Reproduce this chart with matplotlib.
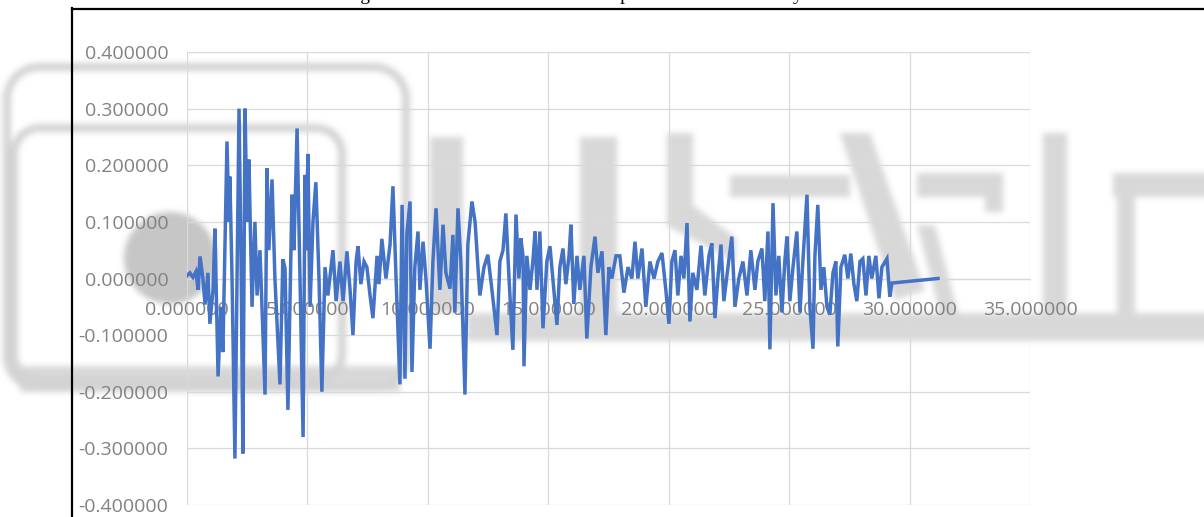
import numpy as np
import matplotlib
matplotlib.use("Agg")
import matplotlib.pyplot as plt
from matplotlib.lines import Line2D
from matplotlib.path import Path

# ---- ground acceleration record (time in s, acceleration in g) ----
time_s = [
    0.00, 0.12, 0.25, 0.37, 0.46, 0.54, 0.66, 0.75, 0.87, 0.95, 1.08, 1.16, 1.29, 1.41, 1.49,
    1.66, 1.74, 1.78, 1.87, 1.99, 2.16, 2.24, 2.32, 2.41, 2.49, 2.57, 2.70, 2.82, 2.91, 3.03,
    3.24, 3.32, 3.40, 3.53, 3.65, 3.86, 3.98, 4.07, 4.19, 4.36, 4.44, 4.57, 4.69, 4.82, 4.90,
    4.94, 5.02, 5.11, 5.23, 5.35, 5.48, 5.60, 5.73, 5.85, 6.06, 6.19, 6.35, 6.48, 6.64, 6.77,
    6.89, 7.02, 7.10, 7.22, 7.35, 7.47, 7.60, 7.72, 7.89, 7.97, 8.09, 8.26, 8.43, 8.55, 8.68,
    8.84, 8.93, 9.05, 9.13, 9.26, 9.34, 9.46, 9.59, 9.67, 9.80, 9.92, 10.09, 10.21, 10.34, 10.50,
    10.63, 10.75, 10.92, 11.04, 11.12, 11.25, 11.37, 11.54, 11.66, 11.83, 11.96, 12.08, 12.16, 12.33, 12.49,
    12.66, 12.87, 12.99, 13.12, 13.24, 13.37, 13.53, 13.66, 13.78, 13.86, 13.95, 13.99, 14.11, 14.24, 14.36,
    14.45, 14.53, 14.65, 14.78, 14.94, 15.07, 15.19, 15.36, 15.48, 15.61, 15.73, 15.86, 15.94, 16.06, 16.19,
    16.31, 16.48, 16.60, 16.77, 16.94, 17.06, 17.23, 17.39, 17.52, 17.64, 17.81, 17.97, 18.14, 18.31, 18.47,
    18.60, 18.72, 18.89, 19.05, 19.22, 19.39, 19.55, 19.72, 19.88, 20.01, 20.13, 20.26, 20.38, 20.51, 20.63,
    20.76, 20.88, 21.00, 21.17, 21.34, 21.50, 21.67, 21.79, 21.92, 22.04, 22.17, 22.29, 22.46, 22.62, 22.75,
    22.91, 23.08, 23.25, 23.41, 23.58, 23.70, 23.87, 23.99, 24.12, 24.20, 24.33, 24.45, 24.57, 24.70, 24.82,
    24.91, 25.03, 25.16, 25.32, 25.45, 25.57, 25.74, 25.86, 25.99, 26.07, 26.19, 26.32, 26.44, 26.57, 26.69,
    26.82, 26.94, 27.02, 27.15, 27.31, 27.44, 27.56, 27.69, 27.81, 27.94, 28.06, 28.19, 28.31, 28.43, 28.60,
    28.73, 28.85, 29.06, 29.18, 29.27, 31.18,
]
accel_g = [
    0.005, 0.010, 0.002, 0.012, -0.020, 0.039, 0.000, -0.046, 0.010, -0.080, -0.020, 0.088, -0.173, -0.050, -0.130,
    0.242, 0.100, 0.180, 0.000, -0.318, 0.300, 0.050, -0.309, 0.300, 0.100, 0.210, -0.050, 0.100, -0.030, 0.050,
    -0.205, 0.195, 0.050, 0.175, 0.000, -0.187, 0.034, 0.018, -0.232, 0.148, 0.050, 0.265, 0.000, -0.280, 0.183,
    0.050, 0.220, -0.050, 0.100, 0.170, 0.000, -0.200, 0.020, -0.030, 0.050, -0.040, 0.030, -0.040, 0.048, -0.020,
    -0.100, 0.030, 0.057, -0.010, 0.030, 0.020, -0.030, -0.070, 0.040, -0.010, 0.070, 0.000, 0.060, 0.163, 0.000,
    -0.187, 0.130, -0.177, 0.080, 0.136, -0.165, 0.020, 0.083, -0.020, 0.065, 0.000, -0.124, 0.030, 0.124, -0.020,
    0.095, 0.010, -0.018, 0.077, -0.060, 0.124, 0.030, -0.205, 0.060, 0.136, 0.100, 0.020, -0.030, 0.020, 0.042,
    -0.020, -0.100, 0.030, 0.050, 0.115, 0.000, -0.126, 0.113, 0.000, 0.071, 0.040, -0.155, 0.040, -0.020, 0.030,
    0.083, -0.020, 0.083, -0.088, 0.030, 0.057, 0.000, -0.082, 0.020, 0.053, -0.010, 0.040, 0.095, -0.045, 0.040,
    -0.020, 0.040, -0.106, 0.020, 0.074, 0.010, 0.048, -0.100, 0.020, 0.000, 0.040, 0.040, -0.025, 0.020, 0.000,
    0.065, 0.000, 0.053, -0.050, 0.030, 0.000, 0.030, 0.045, -0.020, -0.080, 0.030, 0.050, -0.030, 0.040, 0.000,
    0.098, -0.076, 0.010, -0.020, 0.058, -0.030, 0.040, 0.062, -0.070, 0.000, 0.060, -0.040, 0.020, 0.074, -0.050,
    0.000, 0.030, -0.030, 0.050, -0.020, 0.030, 0.053, -0.040, 0.083, -0.125, 0.133, -0.030, 0.040, -0.060, 0.030,
    0.074, -0.040, 0.020, 0.083, -0.060, 0.030, 0.148, -0.050, -0.124, 0.040, 0.130, -0.020, 0.020, -0.050, -0.064,
    0.010, 0.030, -0.120, 0.020, 0.042, 0.000, 0.044, -0.010, -0.040, 0.030, 0.035, -0.030, 0.040, 0.000, 0.040,
    -0.035, 0.020, 0.035, -0.032, -0.008, 0.000,
]

x_ticks = [0, 5, 10, 15, 20, 25, 30, 35]
y_ticks = [-0.4, -0.3, -0.2, -0.1, 0.0, 0.1, 0.2, 0.3, 0.4]
caption = "Fig. 4: Accelerations at the time step of the seismic history"

W, H = 1204, 517
fig = plt.figure(figsize=(W / 100, H / 100), dpi=100, facecolor="white")

# ---- faint journal logo behind the chart ----
yy, xx = np.mgrid[0:H, 0:W].astype(float) + 0.5


def rounded_fill(x0, y0, x1, y1, r):
    dx = np.maximum(np.maximum(x0 + r - xx, 0), xx - (x1 - r))
    dy = np.maximum(np.maximum(y0 + r - yy, 0), yy - (y1 - r))
    inside = (xx >= x0) & (xx <= x1) & (yy >= y0) & (yy <= y1)
    return inside & (dx ** 2 + dy ** 2 <= r ** 2)


def rounded_ring(x0, y0, x1, y1, r, w):
    return rounded_fill(x0, y0, x1, y1, r) & ~rounded_fill(x0 + w, y0 + w, x1 - w, y1 - w, max(r - w, 1))


def box(x0, y0, x1, y1):
    return (xx >= x0) & (xx <= x1) & (yy >= y0) & (yy <= y1)


def poly(pts):
    p = Path(pts)
    return p.contains_points(np.c_[xx.ravel(), yy.ravel()]).reshape(H, W)


shade = np.zeros((H, W))
for m, g in [
    (rounded_ring(3, 63, 410, 392, 36, 8), 0.17),
    (rounded_ring(10, 124, 346, 384, 30, 8), 0.17),
    (box(20, 366, 400, 392), 0.15),
    (box(430, 137, 463, 313), 0.15),
    (box(580, 137, 617, 313), 0.15),
    (box(467, 313, W, 341), 0.15),
    (poly([(667, 133), (693, 133), (693, 205), (736, 238), (736, 262), (667, 226)]), 0.15),
    (box(730, 175, 850, 197), 0.15),
    (poly([(840, 133), (870, 133), (925, 290), (895, 300)]), 0.15),
    (box(917, 173, 1003, 197), 0.15),
    (box(985, 173, 1003, 212), 0.15),
    (poly([(917, 225), (935, 225), (958, 313), (940, 313)]), 0.15),
    (box(1043, 133, 1067, 313), 0.15),
    (box(1113, 173, W, 197), 0.15),
    (box(1117, 197, 1135, 313), 0.15),
]:
    shade = np.maximum(shade, m * g)
circle = (xx - 170) ** 2 + (yy - 258) ** 2 <= 46 ** 2
shade = np.maximum(shade, circle * 0.22)


def box_blur(a, r):
    k = 2 * r + 1
    p = np.pad(a, ((r, r), (0, 0)), mode="edge")
    c = np.cumsum(np.vstack([np.zeros((1, a.shape[1])), p]), axis=0)
    a = (c[k:] - c[:-k]) / k
    p = np.pad(a, ((0, 0), (r, r)), mode="edge")
    c = np.cumsum(np.hstack([np.zeros((a.shape[0], 1)), p]), axis=1)
    return (c[:, k:] - c[:, :-k]) / k


shade = box_blur(box_blur(shade, 3), 3)
rgb = np.repeat((1.0 - shade)[:, :, None], 3, axis=2)
bg = fig.add_axes([0, 0, 1, 1], zorder=0)
bg.imshow(rgb, extent=(0, W, H, 0), aspect="auto", interpolation="bilinear")
bg.set_xlim(0, W)
bg.set_ylim(H, 0)
bg.axis("off")

# ---- chart ----
left, right, top, bottom = 187, 1030, 52, 505
ax = fig.add_axes([left / W, 1 - bottom / H, (right - left) / W, (bottom - top) / H], zorder=2)
ax.set_facecolor("none")
ax.plot(time_s, accel_g, color="#4472C4", lw=2.5, solid_joinstyle="miter", zorder=3)

ax.set_xlim(0, 35)
ax.set_ylim(-0.4, 0.4)
ax.set_xticks(x_ticks)
ax.set_yticks(y_ticks)
ax.set_xticklabels([f"{v:.6f}" for v in x_ticks])
ax.set_yticklabels([f"{v:.6f}" for v in y_ticks])
ax.grid(True, color="#d9d9d9", lw=0.9, zorder=1)
ax.set_axisbelow(True)
for s in ["top", "right", "left"]:
    ax.spines[s].set_visible(False)
ax.spines["bottom"].set_position(("data", 0))
ax.spines["bottom"].set_color("#d9d9d9")
ax.spines["bottom"].set_linewidth(0.9)
ax.tick_params(axis="x", length=0, pad=16.5, labelsize=14, labelcolor="#828282")
ax.tick_params(axis="y", length=0, pad=13.5, labelsize=14, labelcolor="#828282")
for lab in ax.get_xticklabels() + ax.get_yticklabels():
    lab.set_fontfamily("Open Sans")

# ---- page frame and the caption line above it (only its descenders reach this page) ----
fig.add_artist(Line2D([72 / W, 72 / W], [0, 1 - 8 / H], color="black", lw=1.6, zorder=5))
fig.add_artist(Line2D([72 / W, 1.0], [1 - 9 / H, 1 - 9 / H], color="black", lw=1.6, zorder=5))
fig.text(344 / W, 1 + 0.5 / H, caption, fontsize=14, family="Liberation Serif",
         ha="left", va="baseline", color="black", zorder=5)

fig.savefig("out.png", dpi=100, facecolor="white")
